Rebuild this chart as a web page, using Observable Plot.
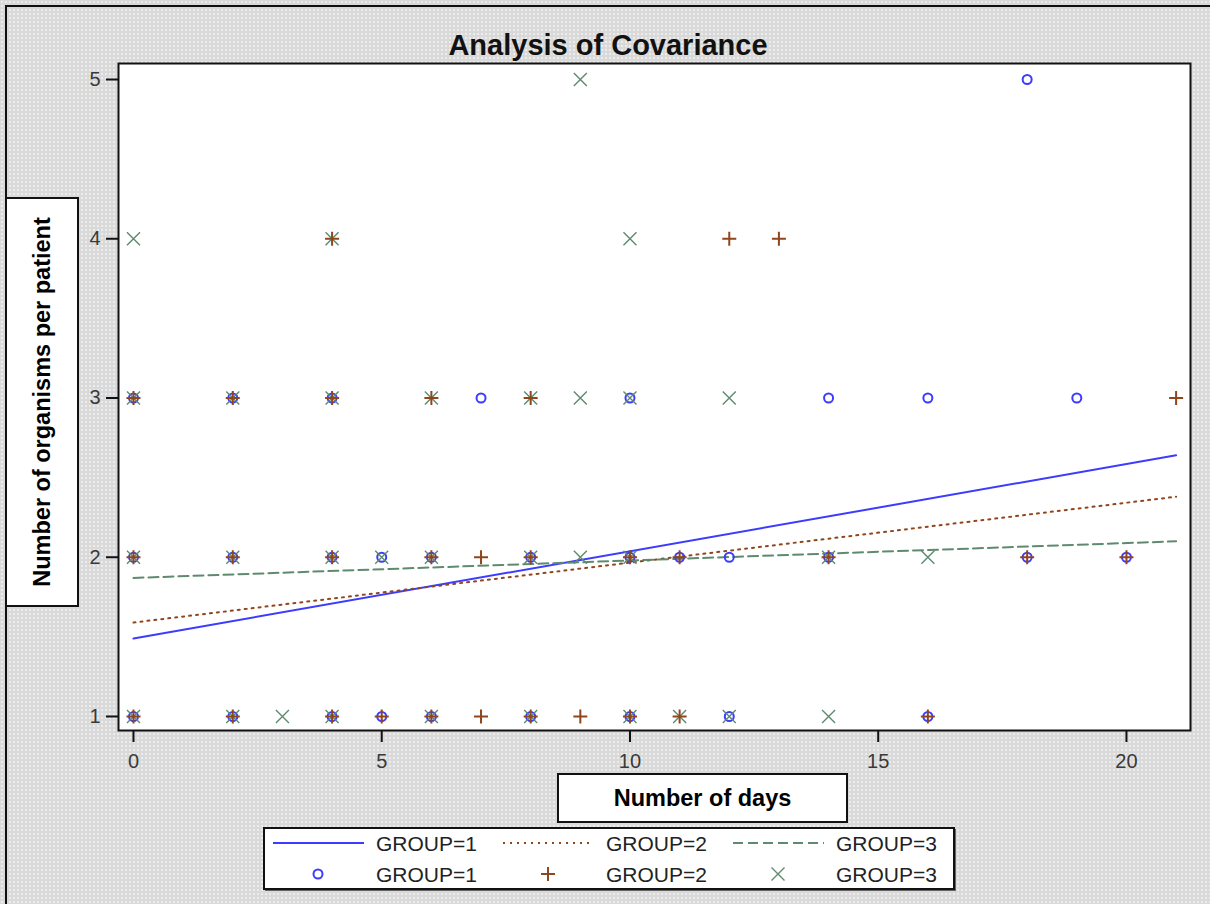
<!DOCTYPE html>
<html>
<head>
<meta charset="utf-8">
<script src="https://cdn.jsdelivr.net/npm/d3@7"></script>
<script src="https://cdn.jsdelivr.net/npm/@observablehq/plot@0.6"></script>
<style>
  html, body { margin: 0; padding: 0; width: 1210px; height: 904px; overflow: hidden; }
  body {
    background-color: #d9d9d9;
    background-image: radial-gradient(circle, #f3f3f3 0.6px, transparent 1px);
    background-size: 4px 4px;
    font-family: "Liberation Sans", Arial, sans-serif;
    position: relative;
  }
  #frame { position: absolute; left: 5px; top: 5px; width: 1205px; height: 899px;
           border-left: 2px solid #111; border-top: 2px solid #111; box-sizing: border-box; }
  #chart { position: absolute; left: 0; top: 0; }
  #title { position: absolute; left: 608px; top: 45px; transform: translate(-50%, -50%);
           font-weight: bold; font-size: 29px; color: #111; white-space: nowrap; }
  .box { position: absolute; background: white; border: 2px solid #111; box-sizing: border-box; }
  #ylab { left: 5px; top: 197px; width: 74px; height: 410px; }
  #ylab span { position: absolute; left: 50%; top: 50%; transform: translate(-50%, -50%) rotate(-90deg);
               white-space: nowrap; font-weight: bold; font-size: 23.5px; color: #000; }
  #xlab { left: 557px; top: 773px; width: 291px; height: 50px; display: flex; align-items: center;
          justify-content: center; font-weight: bold; font-size: 23.5px; color: #000; }
  #legend { position: absolute; left: 263px; top: 827px; }
</style>
</head>
<body>
<div id="frame"></div>
<div id="chart"></div>
<div id="title">Analysis of Covariance</div>
<div class="box" id="ylab"><span>Number of organisms per patient</span></div>
<div class="box" id="xlab">Number of days</div>
<svg id="legend" width="695" height="66"></svg>
<script>
// ---- data ----
const groupLabels = ["GROUP=1", "GROUP=2", "GROUP=3"];
const groupColors = ["#3c3cff", "#90461c", "#5e8a6f"];

// Group 1 (circles)
const g1Days   = [0,2,4,5,6,8,10,12,16, 0,2,4,5,6,8,10,11,12,14,18,20, 0,2,4,7,10,14,16,19, 18];
const g1Counts = [1,1,1,1,1,1,1,1,1,    2,2,2,2,2,2,2,2,2,2,2,2,       3,3,3,3,3,3,3,3,    5];
// Group 2 (plus)
const g2Days   = [0,2,4,5,6,7,8,9,10,11,16, 0,2,4,6,7,8,10,11,14,18,20, 0,2,4,6,8,21, 4,12,13];
const g2Counts = [1,1,1,1,1,1,1,1,1,1,1,    2,2,2,2,2,2,2,2,2,2,2,       3,3,3,3,3,3,   4,4,4];
// Group 3 (times)
const g3Days   = [0,2,3,4,6,8,10,11,12,14, 0,2,4,5,6,8,9,10,14,16, 0,2,4,6,8,9,10,12, 0,4,10, 9];
const g3Counts = [1,1,1,1,1,1,1,1,1,1,     2,2,2,2,2,2,2,2,2,2,    3,3,3,3,3,3,3,3,   4,4,4,   5];

// Fitted regression lines (endpoints at day 0 and day 21)
const fitDays = [0, 21];
const g1Fit = [1.49, 2.64];
const g2Fit = [1.59, 2.38];
const g3Fit = [1.87, 2.10];

const xTicks = [0, 5, 10, 15, 20];
const yTicks = [1, 2, 3, 4, 5];

// ---- build tables ----
const pts = (days, counts) => days.map((d, i) => ({day: d, count: counts[i]}));
const fit = (vals) => fitDays.map((d, i) => ({day: d, value: vals[i]}));

const plusSym = {draw(ctx, size) { const r = Math.sqrt(size / Math.PI);
  ctx.moveTo(-r, 0); ctx.lineTo(r, 0); ctx.moveTo(0, -r); ctx.lineTo(0, r); }};
const timesSym = {draw(ctx, size) { const r = Math.sqrt(size / Math.PI);
  ctx.moveTo(-r, -r); ctx.lineTo(r, r); ctx.moveTo(r, -r); ctx.lineTo(-r, r); }};

const chart = Plot.plot({
  width: 1210,
  height: 904,
  marginLeft: 118,
  marginRight: 20,
  marginTop: 63,
  marginBottom: 174,
  style: {background: "transparent", fontFamily: "'Liberation Sans', Arial, sans-serif", fontSize: "20px", overflow: "visible"},
  x: {domain: [-0.302, 21.29]},
  y: {domain: [0.912, 5.1005]},
  marks: [
    Plot.frame({fill: "white", stroke: "#111", strokeWidth: 2}),
    Plot.axisY({ticks: yTicks, tickSize: 12, tickPadding: 6, stroke: "#111", strokeWidth: 2, fontSize: 20,
                fill: "#3a3a3a", label: null, tickFormat: d => String(d)}),
    Plot.axisX({ticks: xTicks, tickSize: 12, tickPadding: 11, stroke: "#111", strokeWidth: 2, fontSize: 20,
                fill: "#3a3a3a", label: null, tickFormat: d => String(d)}),
    Plot.line(fit(g1Fit), {x: "day", y: "value", stroke: groupColors[0], strokeWidth: 2}),
    Plot.line(fit(g2Fit), {x: "day", y: "value", stroke: groupColors[1], strokeWidth: 2, strokeDasharray: "2,5"}),
    Plot.line(fit(g3Fit), {x: "day", y: "value", stroke: groupColors[2], strokeWidth: 2, strokeDasharray: "10,5"}),
    Plot.dot(pts(g1Days, g1Counts), {x: "day", y: "count", r: 4.5, stroke: groupColors[0], strokeWidth: 2, fill: "none"}),
    Plot.dot(pts(g3Days, g3Counts), {x: "day", y: "count", r: 6.5, symbol: timesSym, stroke: groupColors[2], strokeWidth: 1.4, fill: "none"}),
    Plot.dot(pts(g2Days, g2Counts), {x: "day", y: "count", r: 7, symbol: plusSym, stroke: groupColors[1], strokeWidth: 2, fill: "none"})
  ]
});
document.getElementById("chart").appendChild(chart);

// ---- legend ----
const lg = d3.select("#legend");
lg.append("rect").attr("x", 2).attr("y", 2).attr("width", 691).attr("height", 62).attr("fill", "#666");
lg.append("rect").attr("x", 1).attr("y", 1).attr("width", 690).attr("height", 61)
  .attr("fill", "white").attr("stroke", "#111").attr("stroke-width", 2);
const colX = [10, 240, 470];
const dashes = [null, "2,5", "10,5"];
groupLabels.forEach((lab, i) => {
  const x0 = colX[i];
  const l = lg.append("line").attr("x1", x0).attr("x2", x0 + 91).attr("y1", 16).attr("y2", 16)
    .attr("stroke", groupColors[i]).attr("stroke-width", 2);
  if (dashes[i]) l.attr("stroke-dasharray", dashes[i]);
  lg.append("text").attr("x", x0 + 103).attr("y", 16).attr("dy", "0.36em")
    .attr("font-size", 21).attr("fill", "#222").attr("font-family", "'Liberation Sans', Arial, sans-serif").text(lab);
  const cx = x0 + 45, cy = 47;
  if (i === 0) {
    lg.append("circle").attr("cx", cx).attr("cy", cy).attr("r", 4.5).attr("fill", "none")
      .attr("stroke", groupColors[0]).attr("stroke-width", 2);
  } else if (i === 1) {
    lg.append("path").attr("d", `M${cx-7},${cy}H${cx+7}M${cx},${cy-7}V${cy+7}`)
      .attr("stroke", groupColors[1]).attr("stroke-width", 2);
  } else {
    lg.append("path").attr("d", `M${cx-6.5},${cy-6.5}L${cx+6.5},${cy+6.5}M${cx+6.5},${cy-6.5}L${cx-6.5},${cy+6.5}`)
      .attr("stroke", groupColors[2]).attr("stroke-width", 1.4);
  }
  lg.append("text").attr("x", x0 + 103).attr("y", cy).attr("dy", "0.36em")
    .attr("font-size", 21).attr("fill", "#222").attr("font-family", "'Liberation Sans', Arial, sans-serif").text(lab);
});
</script>
</body>
</html>
